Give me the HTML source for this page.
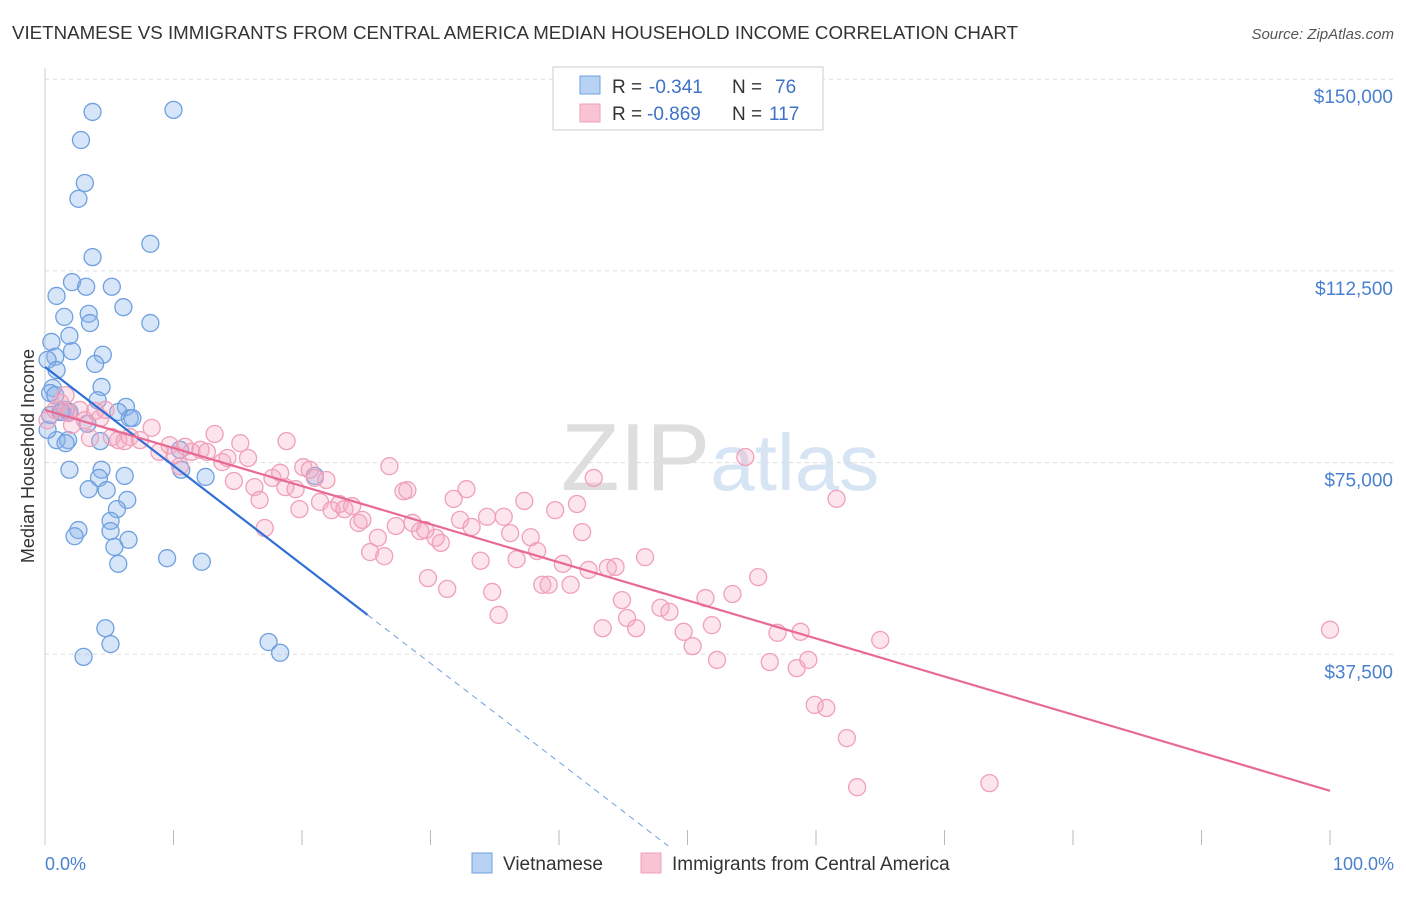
<!DOCTYPE html>
<html><head><meta charset="utf-8"><style>
body{margin:0;background:#fff;font-family:"Liberation Sans",sans-serif;}
svg text{font-family:"Liberation Sans",sans-serif;}
</style></head><body>
<svg id="chart" width="1406" height="892" viewBox="0 0 1406 892">
<text x="12" y="39" font-size="18" fill="#333" textLength="1006" lengthAdjust="spacingAndGlyphs">VIETNAMESE VS IMMIGRANTS FROM CENTRAL AMERICA MEDIAN HOUSEHOLD INCOME CORRELATION CHART</text>
<text x="1394" y="39" font-size="15" fill="#555" font-style="italic" text-anchor="end">Source: ZipAtlas.com</text>
<text x="720" y="490" font-size="96" fill="#e4e4e4" text-anchor="middle" font-family="Liberation Serif"><tspan fill="#dedede">ZIP</tspan><tspan fill="#d6e4f4" font-family="Liberation Sans" font-size="80">atlas</tspan></text>
<g id="grid"></g>
<line x1="45" y1="68" x2="45" y2="845" stroke="#ccc"/>
<text transform="translate(34,456) rotate(-90)" font-size="18" fill="#333" text-anchor="middle">Median Household Income</text>
<text x="45" y="870" font-size="18" fill="#4a80d0">0.0%</text>
<text x="1394" y="870" font-size="18" fill="#4a80d0" text-anchor="end">100.0%</text>
<g id="pts"></g>
<g id="lines"></g>
<g>
<rect x="553" y="67" width="270" height="63" fill="#fff" stroke="#ccc"/>
<rect x="580" y="76" width="20" height="18" fill="#b8d2f4" stroke="#6fa0e0"/>
<rect x="580" y="104" width="20" height="18" fill="#f8c4d4" stroke="#f0a0b8"/>
<text x="612" y="93" font-size="19" fill="#333">R =</text>
<text x="649" y="93" font-size="19" fill="#3d72c8">-0.341</text>
<text x="732" y="93" font-size="19" fill="#333">N =</text>
<text x="775" y="93" font-size="19" fill="#3d72c8">76</text>
<text x="612" y="120" font-size="19" fill="#333">R =</text>
<text x="647" y="120" font-size="19" fill="#3d72c8">-0.869</text>
<text x="732" y="120" font-size="19" fill="#333">N =</text>
<text x="769" y="120" font-size="19" fill="#3d72c8">117</text>
</g>
<g>
<rect x="472" y="853" width="20" height="20" fill="#b8d2f4" stroke="#6fa0e0"/>
<text x="503" y="870" font-size="19" fill="#333">Vietnamese</text>
<rect x="641" y="853" width="20" height="20" fill="#f8c4d4" stroke="#f0a0b8"/>
<text x="672" y="870" font-size="19" fill="#333">Immigrants from Central America</text>
</g>
</svg>
<script>
const yTicks=[37500,75000,112500,150000];
const yTickLabels=["$37,500","$75,000","$112,500","$150,000"];
const xTicks=[0,10,20,30,40,50,60,70,80,90,100];
const blueX=[3.7,10.0,2.8,3.1,2.6,8.2,3.7,2.1,0.9,3.2,5.2,6.1,1.5,3.4,3.5,8.2,1.9,0.5,2.1,0.8,4.5,0.2,0.9,3.9,4.4,0.6,0.4,4.1,6.3,1.2,1.6,5.7,6.6,6.8,3.3,0.9,1.8,4.3,10.5,1.9,4.4,10.6,12.5,6.2,4.2,3.4,4.8,6.4,5.6,5.1,2.6,2.3,5.1,6.5,5.4,5.7,9.5,12.2,4.7,5.1,17.4,18.3,3.0,21.0,0.2,0.4,0.8,1.3,1.9,1.6];
const blueY=[143.6,144.0,138.1,129.7,126.6,117.8,115.2,110.3,107.6,109.4,109.4,105.4,103.5,104.1,102.3,102.3,99.8,98.6,96.8,95.7,96.1,95.1,93.1,94.3,89.8,89.6,88.6,87.2,85.9,84.9,85.3,84.9,83.7,83.7,82.6,79.4,79.4,79.2,77.5,73.6,73.6,73.6,72.2,72.4,72.0,69.8,69.6,67.7,65.9,63.6,61.8,60.6,61.6,59.9,58.5,55.2,56.3,55.6,42.6,39.5,39.9,37.8,37.0,72.4,81.4,84.3,88.2,84.9,84.9,78.8];
const pinkX=[0.2,0.8,1.2,1.6,1.8,2.1,2.7,3.1,3.5,3.9,4.3,4.7,5.2,5.7,6.2,6.6,7.4,8.3,8.9,9.7,10.1,10.5,10.9,11.4,12.1,12.6,13.2,13.8,14.2,14.7,15.2,15.8,16.3,16.7,17.1,17.7,18.3,18.7,18.8,19.5,19.8,20.1,20.6,21.0,21.4,21.9,22.3,22.9,23.3,23.9,24.4,24.7,25.3,25.9,26.4,26.8,27.3,27.9,28.2,28.6,29.2,29.6,29.8,30.4,30.8,31.3,31.8,32.3,32.8,33.2,33.9,34.4,34.8,35.3,35.7,36.2,36.7,37.3,37.8,38.3,38.7,39.2,39.7,40.3,40.9,41.4,41.8,42.3,42.7,43.4,43.8,44.4,44.9,45.3,46.0,46.7,47.9,48.6,49.7,50.4,51.4,51.9,52.3,53.5,54.5,55.5,56.4,57.0,58.5,59.4,59.9,60.8,61.6,62.4,63.2,65.0,73.5,100,58.8];
const pinkY=[83.3,85.3,86.7,88.2,84.7,82.4,85.3,83.3,79.8,85.1,83.7,85.3,80.0,79.4,79.2,80.0,79.4,81.8,77.1,78.4,76.5,74.3,78.1,77.1,77.5,77.1,80.6,75.1,75.9,71.4,78.8,75.9,70.2,67.7,62.2,72.0,73.0,70.2,79.2,69.8,65.9,74.1,73.6,72.0,67.3,71.6,65.7,66.9,65.9,66.5,63.2,63.8,57.5,60.3,56.7,74.3,62.6,69.4,69.6,63.2,61.6,61.8,52.4,60.3,59.3,50.3,67.9,63.8,69.8,62.4,55.8,64.4,49.7,45.2,64.4,61.2,56.1,67.5,60.4,57.7,51.1,51.1,65.7,55.2,51.1,66.9,61.4,54.0,72.0,42.6,54.4,54.6,48.1,44.6,42.6,56.5,46.6,45.8,41.9,39.1,48.5,43.2,36.4,49.3,76.1,52.6,36.0,41.7,34.8,36.4,27.6,27.0,67.9,21.1,11.5,40.3,12.3,42.3,41.9];
const blueTrend=[93.7,-1.932];
const pinkTrend=[85.3,-0.745];
const NS='http://www.w3.org/2000/svg';
const sx=v=>45+v*12.85;
const Y=k=>846-k*1000/37500*191.7;
function mk(t,a,p){const e=document.createElementNS(NS,t);for(const k in a)e.setAttribute(k,a[k]);p.appendChild(e);return e;}
const grid=document.getElementById('grid');
yTicks.forEach((v,i)=>{
 const y=Y(v/1000);
 const l=mk('line',{x1:45,x2:1394,y1:y,y2:y,stroke:'#ddd','stroke-dasharray':'4,4'},grid);
 
 
 const t=mk('text',{x:1393,y:y+24,'font-size':19,fill:'#4a80d0','text-anchor':'end'},grid);
 t.textContent=yTickLabels[i];
 
 
});
xTicks.forEach(v=>{
 const l=mk('line',{x1:sx(v),x2:sx(v),y1:830,y2:845,stroke:'#bbb'},grid);
 
 
});
const pts=document.getElementById('pts');
blueX.forEach((x,i)=>{
 const c=mk('circle',{cx:sx(x),cy:Y(blueY[i]),r:8.5,fill:'rgba(140,180,235,0.35)',stroke:'#6fa0e0','stroke-width':1.3},pts);
 
 
});
pinkX.forEach((x,i)=>{
 const c=mk('circle',{cx:sx(x),cy:Y(pinkY[i]),r:8.5,fill:'rgba(245,170,195,0.3)',stroke:'#f0a0b8','stroke-width':1.3},pts);
 
 
});
const lines=document.getElementById('lines');
const bl=x=>blueTrend[0]+blueTrend[1]*x, pl=x=>pinkTrend[0]+pinkTrend[1]*x;
let l1=mk('line',{x1:sx(0),y1:Y(bl(0)),x2:sx(25.1),y2:Y(bl(25.1)),stroke:'#2f6fd8','stroke-width':2.2},lines);


let l2=mk('line',{x1:sx(25.1),y1:Y(bl(25.1)),x2:sx(48.5),y2:Y(bl(48.5)),stroke:'#6fa0e0','stroke-width':1,'stroke-dasharray':'6,5'},lines);


let l3=mk('line',{x1:sx(0),y1:Y(pl(0)),x2:sx(100),y2:Y(pl(100)),stroke:'#e86a94','stroke-width':2.2},lines);


</script>
</body></html>
